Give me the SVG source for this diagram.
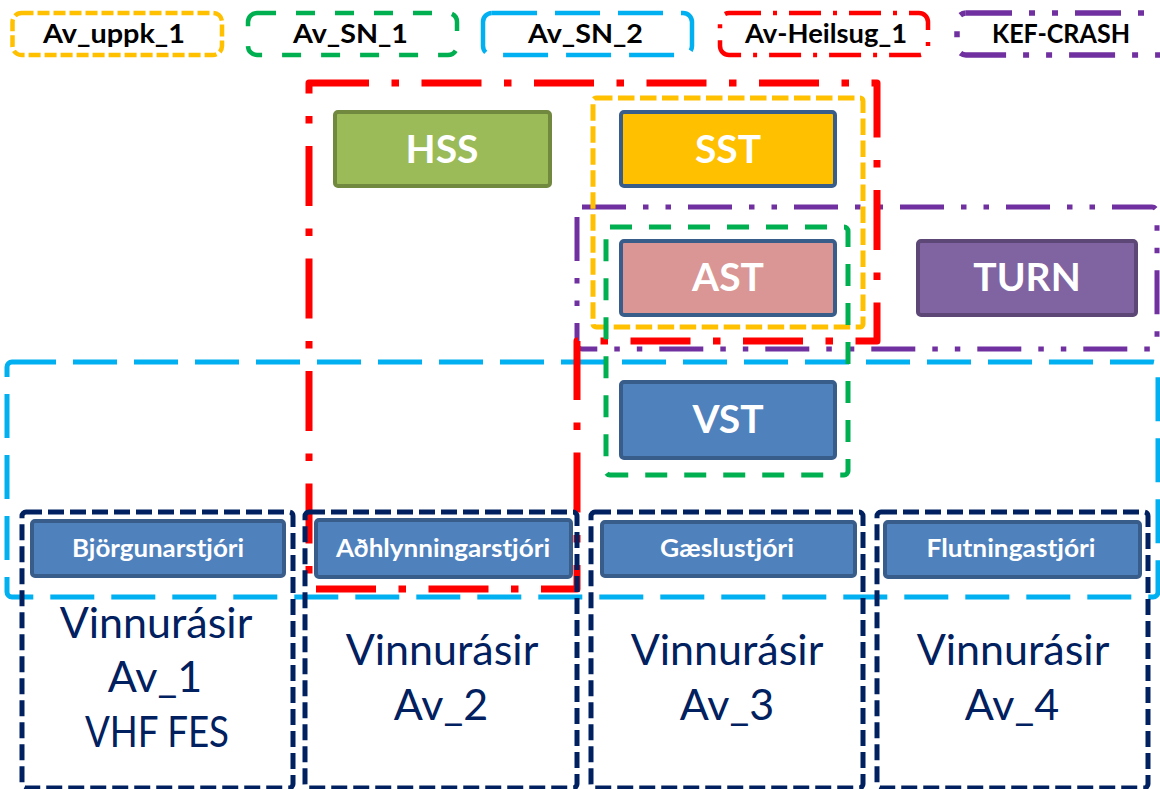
<svg xmlns="http://www.w3.org/2000/svg" width="1160" height="789" viewBox="0 0 1160 789">
<style>
.bx{fill:none;stroke-linejoin:round}
.lg{fill:#fff;stroke-width:4.5}
.yelL{stroke:#FFC000;stroke-dasharray:12 4}
.grnL{stroke:#00B050;stroke-dasharray:19 20}
.cynL{stroke:#00B0F0;stroke-dasharray:45 18}
.redL{stroke:#FF0000;stroke-dasharray:32 12 4 12}
.purL{stroke:#7030A0;stroke-width:5.5;stroke-dasharray:46 17 6 17 6 17}
.yel{stroke:#FFC000;stroke-width:5;stroke-dasharray:16.5 5.5}
.grn{stroke:#00B050;stroke-width:5;stroke-dasharray:22 17}
.cyn{stroke:#00B0F0;stroke-width:5;stroke-dasharray:44 17}
.red{stroke:#FF0000;stroke-width:7;stroke-dasharray:60 22.5 7.5 22.5}
.pur{stroke:#7030A0;stroke-width:5;stroke-dasharray:44 17 5.5 17 5.5 17}
.nav{stroke:#002060;stroke-width:5;stroke-dasharray:16 6}
.nd{stroke-width:4}
.blue{fill:#4F81BD;stroke:#385D8A}
.lt{font-family:Lato,"Open Sans","Liberation Sans",sans-serif;font-weight:bold;font-size:26px;fill:#000;text-anchor:middle}
.nt{font-family:Lato,"Open Sans","Liberation Sans",sans-serif;font-weight:bold;font-size:39px;fill:#fff;text-anchor:middle}
.mt{font-family:Lato,"Open Sans","Liberation Sans",sans-serif;font-weight:bold;font-size:25px;fill:#fff;text-anchor:middle}
.vt{font-family:Lato,"Open Sans","Liberation Sans",sans-serif;font-size:43px;fill:#002060;text-anchor:middle}
</style>
<g id="legend">
<g id="leg-uppk"><rect class="lg yelL" x="12.5" y="13" width="209.5" height="42" rx="9"/><text class="lt" x="114" y="43" textLength="142" lengthAdjust="spacingAndGlyphs">Av_uppk_1</text></g>
<g id="leg-sn1"><rect class="lg grnL" x="248" y="13" width="209" height="42" rx="9"/><text class="lt" x="350.5" y="43" textLength="115" lengthAdjust="spacingAndGlyphs">Av_SN_1</text></g>
<g id="leg-sn2"><rect class="lg cynL" x="483" y="13" width="209" height="42" rx="9"/><text class="lt" x="585.5" y="43" textLength="115" lengthAdjust="spacingAndGlyphs">Av_SN_2</text></g>
<g id="leg-heil"><rect class="lg redL" x="720" y="13" width="208" height="42" rx="9"/><text class="lt" x="826" y="43" textLength="162" lengthAdjust="spacingAndGlyphs">Av-Heilsug_1</text></g>
<g id="leg-kef"><rect class="lg purL" x="957" y="13" width="230" height="42" rx="9"/><text class="lt" x="1061" y="43" textLength="138" lengthAdjust="spacingAndGlyphs">KEF-CRASH</text></g>
</g>
<g id="groups">
<rect id="grp-sn2" class="bx cyn" x="7" y="362" width="1151" height="235" rx="5"/>
<rect id="grp-kef" class="bx pur" x="577" y="207" width="580" height="142" rx="5"/>
<path id="grp-heil" class="bx red" d="M309,83 H877 V341 H577 V589 H309 Z"/>
<rect id="grp-uppk" class="bx yel" x="593" y="98" width="270" height="229" rx="3"/>
<rect id="grp-sn1" class="bx grn" x="606" y="227" width="242" height="248" rx="4"/>
<rect id="grp-av1" class="bx nav" x="22" y="512" width="271" height="276" rx="4"/>
<rect id="grp-av2" class="bx nav" x="305" y="512" width="272" height="276" rx="4"/>
<rect id="grp-av3" class="bx nav" x="591" y="512" width="272" height="276" rx="4"/>
<rect id="grp-av4" class="bx nav" x="877" y="512" width="271" height="276" rx="4"/>
</g>
<g id="connectors"/>
<g id="HSS"><rect class="nd" x="335" y="112" width="215" height="74" rx="3" fill="#9BBB59" stroke="#71893F"/><text class="nt" x="442" y="163">HSS</text></g>
<g id="SST"><rect class="nd" x="621" y="112" width="214" height="74" rx="3" fill="#FFC000" stroke="#385D8A"/><text class="nt" x="728" y="163">SST</text></g>
<g id="AST"><rect class="nd" x="621" y="241" width="214" height="74" rx="3" fill="#D99694" stroke="#385D8A"/><text class="nt" x="728" y="291">AST</text></g>
<g id="TURN"><rect class="nd" x="918" y="241" width="218" height="74" rx="3" fill="#8064A2" stroke="#5C4776"/><text class="nt" x="1027" y="291">TURN</text></g>
<g id="VST"><rect class="nd blue" x="621" y="382" width="214" height="76" rx="3"/><text class="nt" x="728" y="433">VST</text></g>
<g id="Bjorgunarstjori"><rect class="nd blue" x="32" y="521" width="252" height="55" rx="3"/><text class="mt" x="158" y="557" textLength="172" lengthAdjust="spacingAndGlyphs">Björgunarstjóri</text></g>
<g id="Adhlynningarstjori"><rect class="nd blue" x="316" y="520" width="255" height="57" rx="3"/><text class="mt" x="443" y="557" textLength="214" lengthAdjust="spacingAndGlyphs">Aðhlynningarstjóri</text></g>
<g id="Gaeslustjori"><rect class="nd blue" x="602" y="522" width="253" height="54" rx="3"/><text class="mt" x="727" y="557" textLength="134" lengthAdjust="spacingAndGlyphs">Gæslustjóri</text></g>
<g id="Flutningastjori"><rect class="nd blue" x="885" y="522" width="255" height="55" rx="3"/><text class="mt" x="1011" y="557" textLength="169" lengthAdjust="spacingAndGlyphs">Flutningastjóri</text></g>
<g id="Av1-text"><text class="vt" x="156" y="638">Vinnurásir</text><text class="vt" x="155" y="692">Av_1</text><text class="vt" x="157" y="747" textLength="144" lengthAdjust="spacingAndGlyphs">VHF FES</text></g>
<g id="Av2-text"><text class="vt" x="442" y="665">Vinnurásir</text><text class="vt" x="441" y="720">Av_2</text></g>
<g id="Av3-text"><text class="vt" x="727" y="665">Vinnurásir</text><text class="vt" x="727" y="720">Av_3</text></g>
<g id="Av4-text"><text class="vt" x="1013" y="665">Vinnurásir</text><text class="vt" x="1012" y="720">Av_4</text></g>
</svg>
